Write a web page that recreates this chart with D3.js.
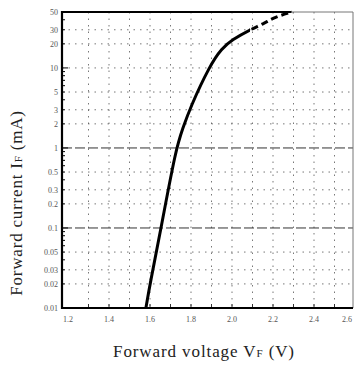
<!DOCTYPE html>
<html><head><meta charset="utf-8">
<script src="https://cdn.jsdelivr.net/npm/d3@7"></script>
<style>body{margin:0;background:#fff}svg{display:block}</style>
</head><body>
<svg id="c" width="355" height="368"></svg>
<script>
const xTicks = [1.2,1.4,1.6,1.8,2.0,2.2,2.4,2.6];
const xTickLabels = ["1.2","1.4","1.6","1.8","2.0","2.2","2.4","2.6"];
const xGrid = [1.3,1.4,1.5,1.6,1.7,1.8,1.9,2.0,2.1,2.2,2.3,2.4,2.5];
const yTicks = [50,30,20,10,5,3,2,1,0.5,0.3,0.2,0.1,0.05,0.03,0.02,0.01];
const yTickLabels = ["50","30","20","10","5","3","2","1","0.5","0.3","0.2","0.1","0.05","0.03","0.02","0.01"];
const curveVoltage = [1.58,1.60,1.654,1.727,1.76,1.795,1.893,1.95,2.0,2.088,2.161,2.21,2.293];
const curveCurrent = [0.01,0.02,0.1,1,1.75,3.16,10.9,17.5,22.5,30.0,36.5,43.4,50];
const dashFrom = 2.088; // measured region beyond which the curve is dashed

const svg = d3.select("#c");
const L=62, R=353, T=12, B=308;
const x = d3.scaleLinear().domain([1.1707,2.5902]).range([L,R]);
const y = d3.scaleLog().domain([0.01,50]).range([B,T]);

// grid
const g = svg.append("g");
g.selectAll("line.v").data(xGrid).enter().append("line")
  .attr("x1",d=>x(d)).attr("x2",d=>x(d)).attr("y1",T).attr("y2",B)
  .attr("stroke","#555").attr("stroke-width",0.8).attr("stroke-dasharray","1.5,5");
g.selectAll("line.h").data(yTicks.filter(d=>d<50&&d>0.01)).enter().append("line")
  .attr("y1",d=>y(d)).attr("y2",d=>y(d)).attr("x1",L).attr("x2",R)
  .attr("stroke",d=>(d===1||d===0.1)?"#333":"#555")
  .attr("stroke-width",d=>(d===1||d===0.1)?1:0.8)
  .attr("stroke-dasharray",d=>(d===1||d===0.1)?"10,3":"1.5,5");

// minor ticks on left axis
const minor=[];
[0.01,0.1,1,10].forEach(dec=>{for(let k=1;k<10;k++){const v=dec*k;if(v<=50)minor.push({v,k});}});
svg.selectAll("line.mt").data(minor).enter().append("line")
  .attr("x1",L).attr("x2",d=>L+(d.k===1?6:3)).attr("y1",d=>y(d.v)).attr("y2",d=>y(d.v))
  .attr("stroke","#000").attr("stroke-width",1);
// bottom ticks
svg.selectAll("line.bt").data(xGrid).enter().append("line")
  .attr("x1",d=>x(d)).attr("x2",d=>x(d)).attr("y1",B).attr("y2",B-4)
  .attr("stroke","#333").attr("stroke-width",1);

// frame
svg.append("line").attr("x1",L).attr("x2",R).attr("y1",T).attr("y2",T).attr("stroke","#777").attr("stroke-width",1);
svg.append("line").attr("x1",L).attr("x2",x(2.29)).attr("y1",T).attr("y2",T).attr("stroke","#000").attr("stroke-width",2);
svg.append("line").attr("x1",R).attr("x2",R).attr("y1",T).attr("y2",B).attr("stroke","#777").attr("stroke-width",1);
svg.append("line").attr("x1",L).attr("x2",L).attr("y1",T-1).attr("y2",B+1).attr("stroke","#000").attr("stroke-width",2.2);
svg.append("line").attr("x1",L).attr("x2",R).attr("y1",B).attr("y2",B).attr("stroke","#000").attr("stroke-width",2);

// curve: one smooth path, solid up to dashFrom then dashed
const defs = svg.append("defs");
defs.append("clipPath").attr("id","cs").append("rect").attr("x",0).attr("y",0).attr("width",x(dashFrom)).attr("height",368);
defs.append("clipPath").attr("id","cd").append("rect").attr("x",x(dashFrom)).attr("y",0).attr("width",355).attr("height",368);
const line = d3.line().x(d=>x(d[0])).y(d=>y(d[1])).curve(d3.curveBasis);
const pts = d3.zip(curveVoltage,curveCurrent);
svg.append("path").attr("d",line(pts)).attr("clip-path","url(#cs)")
  .attr("fill","none").attr("stroke","#000").attr("stroke-width",3);
svg.append("path").attr("d",line(pts)).attr("clip-path","url(#cd)")
  .attr("fill","none").attr("stroke","#000").attr("stroke-width",3).attr("stroke-dasharray","7,4");

// tick labels
const font="Liberation Serif, Times New Roman, serif";
svg.selectAll("text.yl").data(yTicks).enter().append("text")
  .attr("x",L-4).attr("y",d=>y(d)+3).attr("text-anchor","end")
  .attr("font-family",font).attr("font-size",8).attr("fill","#555")
  .text((d,i)=>yTickLabels[i]);
svg.selectAll("text.xl").data(xTicks).enter().append("text")
  .attr("x",d=>Math.min(x(d),347)).attr("y",B+14).attr("text-anchor","middle")
  .attr("font-family",font).attr("font-size",8).attr("fill","#555")
  .text((d,i)=>xTickLabels[i]);

// axis titles
const xt = svg.append("text").attr("x",204).attr("y",357).attr("text-anchor","middle")
  .attr("font-family",font).attr("font-size",17).attr("letter-spacing",0.9).attr("fill","#222");
xt.append("tspan").text("Forward voltage V");
xt.append("tspan").attr("font-size",11).text("F");
xt.append("tspan").text(" (V)");
const yt = svg.append("text").attr("transform","translate(22,203) rotate(-90)").attr("text-anchor","middle")
  .attr("font-family",font).attr("font-size",17).attr("letter-spacing",0.8).attr("fill","#222");
yt.append("tspan").text("Forward current I");
yt.append("tspan").attr("font-size",11).text("F");
yt.append("tspan").text(" (mA)");
</script>
</body></html>
